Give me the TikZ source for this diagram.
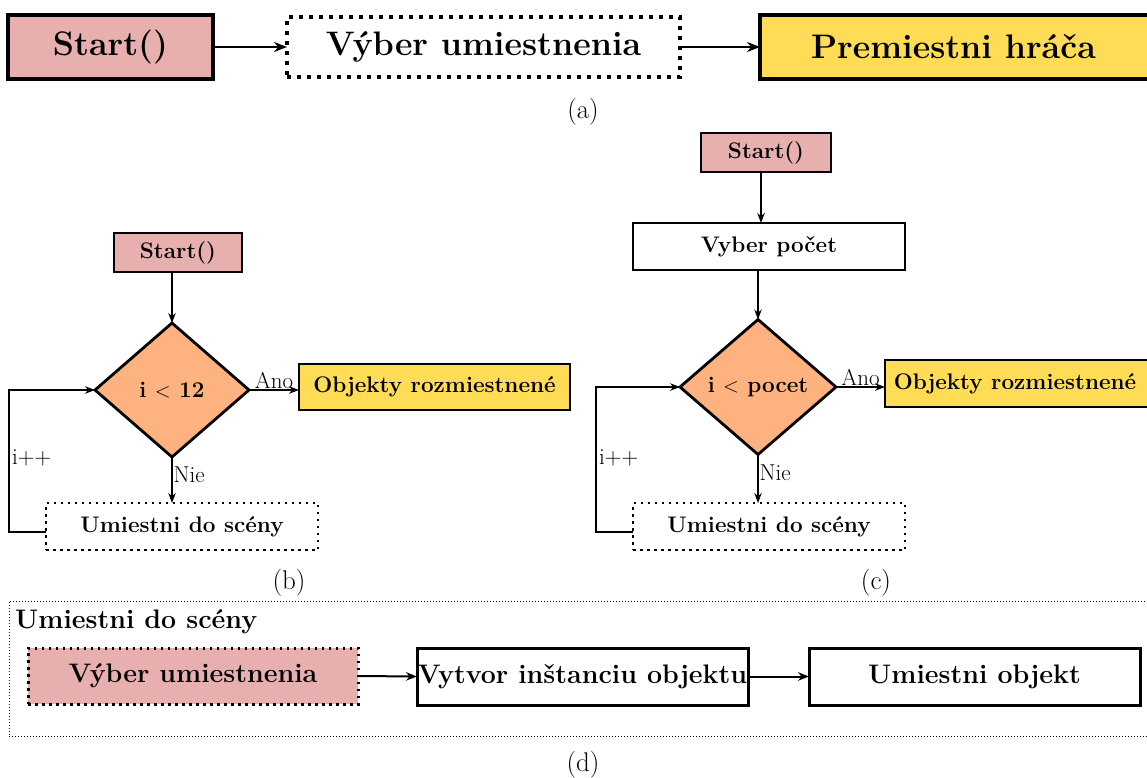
\documentclass[tikz,border=0pt]{standalone}
\usepackage{fontspec}
\usetikzlibrary{shapes.geometric,arrows.meta,calc}
\definecolor{pinkf}{HTML}{E8AFAF}
\definecolor{orangef}{HTML}{FDB27F}
\definecolor{yellowf}{HTML}{FFDC56}
\begin{document}
\begin{tikzpicture}[x=1pt,y=-1pt,
  box/.style={draw, inner sep=0pt, outer sep=0pt, align=center},
  abox/.style={box, line width=3.5pt, font=\fontsize{34}{40}\selectfont\bfseries},
  bbox/.style={box, line width=2.2pt, font=\fontsize{22.5}{26}\selectfont\bfseries},
  dbox/.style={box, line width=3pt, font=\fontsize{26.8}{31}\selectfont\bfseries},
  adots/.style={dash pattern=on 4pt off 6pt},
  bdots/.style={dash pattern=on 2.5pt off 4.5pt},
  decision/.style={diamond, draw, line width=2.8pt, fill=orangef, inner sep=0pt, outer sep=0pt, aspect=1.15, font=\fontsize{22.5}{26}\selectfont\bfseries},
  arr/.style={-{Stealth[length=10pt,width=7.5pt]}, line width=1.3pt},
  aarr/.style={-{Stealth[length=13pt,width=10pt]}, line width=2.3pt},
  darr/.style={-{Stealth[length=11pt,width=8.5pt]}, line width=2pt},
  lbl/.style={font=\fontsize{23}{27}\selectfont, inner sep=1pt},
  captext/.style={font=\fontsize{27}{31}\selectfont}
]
\useasboundingbox (0,0) rectangle (1147,778);

% ---------- (a)
\node[abox, fill=pinkf, minimum width=205pt, minimum height=64pt] (sa) at (110.5,47) {Start()};
\node[abox, adots, minimum width=393pt, minimum height=60pt] (va) at (483.5,47) {Výber umiestnenia};
\node[abox, fill=yellowf, minimum width=392pt, minimum height=64pt] (pa) at (956,47) {\hspace*{-5pt}Premiestni hráča};
\draw[aarr] (sa.east) -- (va.west);
\draw[aarr] (va.east) -- (pa.west);
\node[captext] (capa) at (583,112) {(a)};

% ---------- (b)
\node[bbox, fill=pinkf, minimum width=128pt, minimum height=39pt] (sb) at (178,252.5) {Start()};
\node[decision, minimum width=154pt, minimum height=134pt] (db) at (172,390) {i $<$ 12};
\node[bbox, fill=yellowf, minimum width=271pt, minimum height=46pt] (ob) at (434.5,387) {Objekty rozmiestnené};
\node[bbox, bdots, minimum width=272pt, minimum height=47pt] (ub) at (182,526.5) {Umiestni do scény};
\coordinate (lb) at (9,532);
\draw[arr] (db.north |- sb.south) -- (db.north);
\draw[arr] (db.east) -- (ob.west |- db.east) node[lbl, above, midway] (anob) {Ano};
\draw[arr] (db.south) -- (db.south |- ub.north) node[lbl, right, pos=0.38] (nieb) {Nie};
\draw[arr] (ub.west |- lb) -- (lb) |- (db.west);
\node[lbl, anchor=west] (ipb) at (11,458) {i++};
\node[captext] (capb) at (289,583) {(b)};

% ---------- (c)
\node[bbox, fill=pinkf, minimum width=130pt, minimum height=39pt] (sc) at (766,152.5) {Start()};
\node[bbox, minimum width=272pt, minimum height=47pt] (vc) at (769,246.5) {Vyber počet};
\node[decision, minimum width=156pt, minimum height=135pt] (dc) at (758,387) {i $<$ pocet};
\node[bbox, fill=yellowf, minimum width=266pt, minimum height=47pt] (oc) at (1018,383.5) {\hspace*{-6pt}Objekty rozmiestnené};
\node[bbox, bdots, minimum width=272pt, minimum height=47pt] (uc) at (769,526.5) {Umiestni do scény};
\coordinate (lc) at (596,532);
\draw[arr] ([xshift=-5pt]sc.south) -- ([xshift=-5pt]sc.south |- vc.north);
\draw[arr] (dc.north |- vc.south) -- (dc.north);
\draw[arr] (dc.east) -- (oc.west |- dc.east) node[lbl, above, midway] (anoc) {Ano};
\draw[arr] (dc.south) -- (dc.south |- uc.north) node[lbl, right, pos=0.38] (niec) {Nie};
\draw[arr] (uc.west |- lc) -- (lc) |- (dc.west);
\node[lbl, anchor=west] (ipc) at (598,458) {i++};
\node[captext] (capc) at (876,583) {(c)};

% ---------- (d)
\node[draw, line width=1pt, dotted, inner sep=0pt, minimum width=1138pt, minimum height=135pt] (fd) at (578,668.5) {};
\node[font=\fontsize{26.8}{31}\selectfont\bfseries, anchor=west, inner sep=0pt] (td) at (15,622) {Umiestni do scény};
\node[dbox, bdots, fill=pinkf, minimum width=330pt, minimum height=56pt] (vd) at (193,676) {Výber umiestnenia};
\node[dbox, minimum width=331pt, minimum height=57pt] (id) at (582.5,676.5) {Vytvor inštanciu objektu};
\node[dbox, minimum width=331pt, minimum height=57pt] (ud) at (974.5,676.5) {\raisebox{3pt}{Umiestni objekt}};
\draw[darr] (vd.east) -- (id.west);
\draw[darr] (id.east) -- (ud.west);
\node[captext] (capd) at (583,765) {(d)};
\end{tikzpicture}
\end{document}
